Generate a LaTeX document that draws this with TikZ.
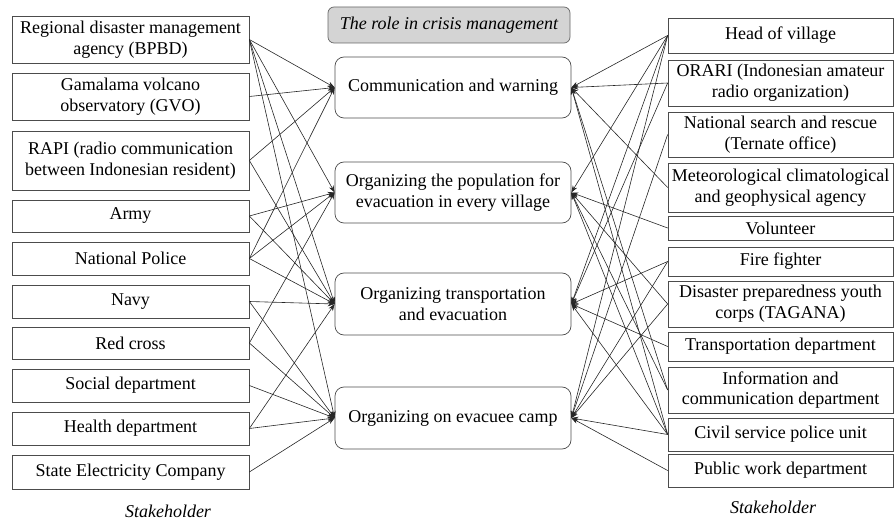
\documentclass[tikz,border=0pt]{standalone}
\usepackage{fontspec}
\setmainfont{Liberation Serif}
\usetikzlibrary{arrows.meta}
\definecolor{rolegray}{RGB}{212,212,212}
\begin{document}
\begin{tikzpicture}[x=1pt,y=-1pt,
  every node/.style={font=\fontsize{18}{20.7}\selectfont, align=center, inner sep=1pt},
  sbox/.style={draw=black!70, line width=0.7pt, minimum width=237pt},
  rbox/.style={draw=black!70, line width=0.7pt, minimum width=225pt},
  role/.style={draw=black!70, line width=0.7pt, rounded corners=9pt, minimum width=236pt},
  rolehead/.style={draw=black!60, fill=rolegray, line width=0.7pt, rounded corners=6pt,
    minimum width=242pt, minimum height=36pt, font=\fontsize{18}{20.7}\selectfont\itshape},
  caption/.style={font=\fontsize{18}{20.7}\selectfont\itshape},
  link/.style={draw=black!85, line width=0.6pt, -{Stealth[length=7pt,width=5pt]}},
]
\useasboundingbox (0,0) rectangle (894,521);

% stakeholders, left column
\node[sbox, minimum height=47pt] (l1) at (130.5,39.5) {Regional disaster management\\agency (BPBD)};
\node[sbox, minimum height=47pt] (l2) at (130.5,96.5) {Gamalama volcano\\observatory (GVO)};
\node[sbox, minimum height=59pt] (l3) at (130.5,160.5) {RAPI (radio communication\\between Indonesian resident)};
\node[sbox, minimum height=32pt] (l4) at (130.5,216) {Army};
\node[sbox, minimum height=33pt] (l5) at (130.5,258.5) {National Police};
\node[sbox, minimum height=33pt] (l6) at (130.5,301.5) {Navy};
\node[sbox, minimum height=32pt] (l7) at (130.5,343) {Red cross};
\node[sbox, minimum height=33pt] (l8) at (130.5,385.5) {Social department};
\node[sbox, minimum height=33pt] (l9) at (130.5,428.5) {Health department};
\node[sbox, minimum height=34pt] (l10) at (130.5,472) {State Electricity Company};
\node[caption] (lcap) at (168,511) {Stakeholder};

% roles in crisis management
\node[rolehead] (head) at (449,25) {The role in crisis management};
\node[role, minimum height=61pt] (comm) at (453,87.5) {Communication and warning};
\node[role, minimum height=61pt] (pop) at (453,192.5) {Organizing the population for\\evacuation in every village};
\node[role, minimum height=62pt] (trans) at (453,304) {Organizing transportation\\and evacuation};
\node[role, minimum height=62pt] (camp) at (453,418) {Organizing on evacuee camp};

% stakeholders, right column
\node[rbox, minimum height=35pt] (r1) at (780.5,35.5) {Head of village};
\node[rbox, minimum height=46pt] (r2) at (780.5,83) {ORARI (Indonesian amateur\\radio organization)};
\node[rbox, minimum height=45pt] (r3) at (780.5,134.5) {National search and rescue\\(Ternate office)};
\node[rbox, minimum height=49pt] (r4) at (780.5,187.5) {Meteorological climatological\\and geophysical agency};
\node[rbox, minimum height=24pt] (r5) at (780.5,228) {Volunteer};
\node[rbox, minimum height=29pt] (r6) at (780.5,261.5) {Fire fighter};
\node[rbox, minimum height=46pt] (r7) at (780.5,304) {Disaster preparedness youth\\corps (TAGANA)};
\node[rbox, minimum height=29pt] (r8) at (780.5,346.5) {Transportation department};
\node[rbox, minimum height=46pt] (r9) at (780.5,390) {Information and\\communication department};
\node[rbox, minimum height=33pt] (r10) at (780.5,434.5) {Civil service police unit};
\node[rbox, minimum height=33pt] (r11) at (780.5,470.5) {Public work department};
\node[caption] (rcap) at (773,507) {Stakeholder};

% left links
\foreach \s/\t in {l1/comm, l1/pop, l1/trans, l1/camp,
                   l2/comm,
                   l3/comm, l3/trans,
                   l4/pop, l4/trans,
                   l5/comm, l5/pop, l5/trans,
                   l6/trans, l6/camp,
                   l7/pop, l7/camp,
                   l8/camp,
                   l9/trans, l9/camp,
                   l10/camp}
  \draw[link] (\s.east) -- (\t.west);

% right links
\foreach \s/\t in {r1/comm, r1/pop, r1/trans, r1/camp,
                   r2/comm, r2/trans,
                   r3/camp,
                   r4/comm,
                   r5/pop,
                   r6/trans, r6/camp,
                   r7/pop, r7/camp,
                   r8/trans,
                   r9/comm, r9/pop,
                   r10/comm, r10/pop, r10/trans, r10/camp,
                   r11/camp}
  \draw[link] (\s.west) -- (\t.east);
\end{tikzpicture}
\end{document}
